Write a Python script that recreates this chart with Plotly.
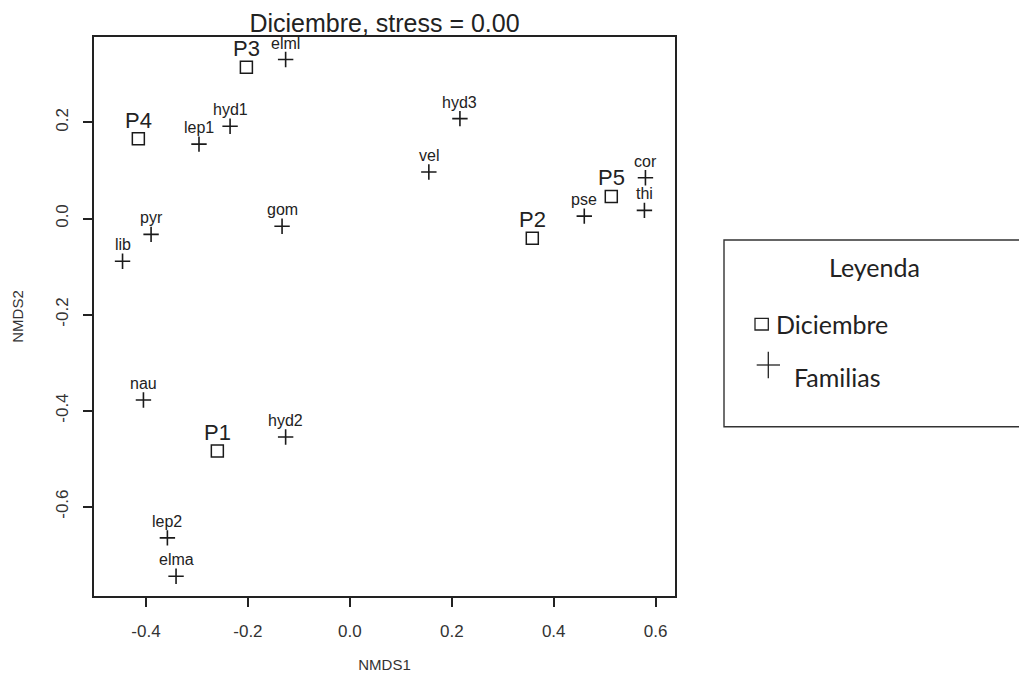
import plotly.graph_objects as go

# ---- data ----
site_labels = ["P1", "P2", "P3", "P4", "P5"]
site_x = [-0.260, 0.358, -0.203, -0.415, 0.513]
site_y = [-0.484, -0.041, 0.315, 0.166, 0.046]

fam_labels = ["elml", "hyd1", "lep1", "hyd3", "vel", "cor", "thi", "pse",
              "pyr", "lib", "gom", "nau", "hyd2", "lep2", "elma"]
fam_x = [-0.126, -0.235, -0.296, 0.216, 0.155, 0.580, 0.578, 0.460,
         -0.390, -0.446, -0.133, -0.405, -0.126, -0.358, -0.341]
fam_y = [0.331, 0.192, 0.155, 0.208, 0.097, 0.085, 0.017, 0.005,
         -0.033, -0.089, -0.016, -0.378, -0.455, -0.665, -0.745]

x_ticks = [-0.4, -0.2, 0.0, 0.2, 0.4, 0.6]
y_ticks = [-0.6, -0.4, -0.2, 0.0, 0.2]
x_tick_text = ["-0.4", "-0.2", "0.0", "0.2", "0.4", "0.6"]
y_tick_text = ["-0.6", "-0.4", "-0.2", "0.0", "0.2"]

title_text = "Diciembre, stress = 0.00"
legend_title = "Leyenda"
legend_items = ["Diciembre", "Familias"]

# ---- layout geometry ----
W, H = 1019, 677
ML, MR, MT, MB = 94, 344, 37, 81
PW, PH = W - ML - MR, H - MT - MB

def px(x):
    return (x - ML) / PW

def py(y):
    return (H - MB - y) / PH

FONT = "Liberation Sans, Arial, sans-serif"
LFONT = "Lato, Open Sans, sans-serif"
INK = "#1a1a1a"

fig = go.Figure()
fig.add_trace(go.Scatter(
    x=site_x, y=site_y, mode="markers", showlegend=False,
    marker=dict(symbol="square-open", size=12, color=INK, line=dict(width=1.5, color=INK)),
))
fig.add_trace(go.Scatter(
    x=fam_x, y=fam_y, mode="markers", showlegend=False,
    marker=dict(symbol="cross-thin-open", size=11, color=INK, line=dict(width=1.6, color=INK)),
))

annotations = []
for lab, xv, yv in zip(site_labels, site_x, site_y):
    annotations.append(dict(x=xv, y=yv, xref="x", yref="y", text=lab, showarrow=False,
                            yanchor="bottom", yshift=4,
                            font=dict(family=FONT, size=22, color="#222")))
for lab, xv, yv in zip(fam_labels, fam_x, fam_y):
    annotations.append(dict(x=xv, y=yv, xref="x", yref="y", text=lab, showarrow=False,
                            yanchor="bottom", yshift=6,
                            font=dict(family=FONT, size=16, color="#222")))

# legend (drawn box, cut by the right edge as in the reference)
annotations.append(dict(x=px(874.5), y=py(267), xref="paper", yref="paper", text=legend_title,
                        showarrow=False, xanchor="center", yanchor="middle",
                        font=dict(family=LFONT, size=25, color="#222")))
annotations.append(dict(x=px(774), y=py(324), xref="paper", yref="paper", text=legend_items[0],
                        showarrow=False, xanchor="left", yanchor="middle",
                        font=dict(family=LFONT, size=25, color="#222")))
annotations.append(dict(x=px(792), y=py(377.5), xref="paper", yref="paper", text=legend_items[1],
                        showarrow=False, xanchor="left", yanchor="middle",
                        font=dict(family=LFONT, size=25, color="#222")))

shapes = [
    dict(type="rect", xref="paper", yref="paper", x0=px(724), x1=px(1040), y0=py(426.7), y1=py(240),
         line=dict(color="#333", width=1.4)),
    dict(type="rect", xref="paper", yref="paper", x0=px(755), x1=px(768.3), y0=py(330), y1=py(318.3),
         line=dict(color="#222", width=1.3)),
    dict(type="line", xref="paper", yref="paper", x0=px(756.7), x1=px(780), y0=py(365), y1=py(365),
         line=dict(color="#222", width=1.3)),
    dict(type="line", xref="paper", yref="paper", x0=px(768.3), x1=px(768.3), y0=py(351.7), y1=py(378.3),
         line=dict(color="#222", width=1.3)),
]

fig.update_layout(
    width=W, height=H,
    margin=dict(l=ML, r=MR, t=MT, b=MB),
    paper_bgcolor="white", plot_bgcolor="white",
    title=dict(text=title_text, x=0.5, xref="paper", xanchor="center", y=1 - 23 / H, yanchor="middle",
               yref="container", font=dict(family=FONT, size=25, color="#222")),
    annotations=annotations,
    shapes=shapes,
    showlegend=False,
)
fig.update_xaxes(
    range=[-0.502, 0.638], tickvals=x_ticks, ticktext=x_tick_text, automargin=False,
    showgrid=False, zeroline=False, showline=True, mirror=True,
    linecolor="#222", linewidth=1.5, ticks="outside", ticklen=9, tickwidth=1.5, tickcolor="#222",
    tickfont=dict(family=FONT, size=17, color="#333"), ticklabelstandoff=10,
    title=dict(text="NMDS1", font=dict(family=FONT, size=15, color="#333"), standoff=19),
)
fig.update_yaxes(
    range=[-0.786, 0.378], tickvals=y_ticks, ticktext=y_tick_text, automargin=False,
    showgrid=False, zeroline=False, showline=True, mirror=True,
    linecolor="#222", linewidth=1.5, ticks="outside", ticklen=9, tickwidth=1.5, tickcolor="#222",
    tickangle=-90,
    tickfont=dict(family=FONT, size=17, color="#333"), ticklabelstandoff=8,
    title=dict(text="NMDS2", font=dict(family=FONT, size=15, color="#333"), standoff=26),
)

fig.write_html("out.html")
